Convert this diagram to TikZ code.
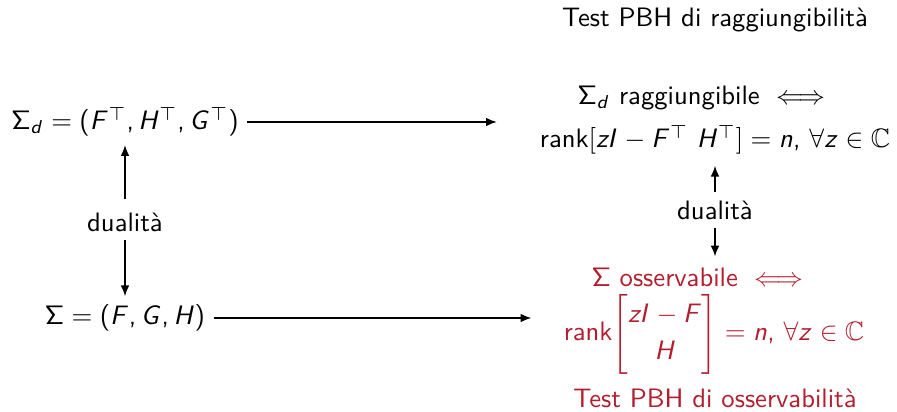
\documentclass[tikz,border=0pt]{standalone}
\usepackage{amsmath,amssymb}
\usetikzlibrary{arrows.meta}
\renewcommand\familydefault{\sfdefault}
\DeclareSymbolFont{sfup}{OT1}{cmss}{m}{n}
\DeclareSymbolFont{sfit}{OT1}{cmss}{m}{sl}
\def\do#1{\DeclareMathSymbol{#1}{\mathalpha}{sfit}{`#1}}
\do A\do B\do C\do D\do E\do F\do G\do H\do I\do J\do K\do L\do M
\do N\do O\do P\do Q\do R\do S\do T\do U\do V\do W\do X\do Y\do Z
\do a\do b\do c\do d\do e\do f\do g\do h\do i\do j\do k\do l\do m
\do n\do o\do p\do q\do r\do s\do t\do u\do v\do w\do x\do y\do z
\DeclareMathSymbol{\Sigma}{\mathalpha}{sfup}{"06}
\DeclareMathSymbol{(}{\mathopen}{sfup}{`(}
\DeclareMathSymbol{)}{\mathclose}{sfup}{`)}
\DeclareMathSymbol{,}{\mathpunct}{sfup}{`,}
\definecolor{bred}{RGB}{178,30,46}
\tikzset{
  lbl/.style={inner sep=3pt},
  arr/.style={-{Latex[length=4pt,width=3.2pt]}, line width=0.45pt},
}
\begin{document}
\begin{tikzpicture}[x=0.375pt,y=-0.375pt]
\useasboundingbox (0,0) rectangle (897,412);
\node[lbl] (t1) at (715,20) {Test PBH di raggiungibilità};
\node[lbl] (sd) at (125,122) {$\Sigma_d = (F^\top, H^\top, G^\top)$};
\node[lbl] (r1) at (705,98) {$\Sigma_d$ raggiungibile $\iff$};
\node[lbl] (r2) at (715,140) {rank$[zI - F^\top\ H^\top] = n,\,\forall z \in \mathbb{C}$};
\node[lbl] (dl) at (125,222) {dualità};
\node[lbl] (dr) at (715,210) {dualità};
\node[lbl] (sig) at (125,318) {$\Sigma = (F, G, H)$};
\node[lbl, text=bred] (o1) at (701,277) {$\Sigma$ osservabile $\iff$};
\node[lbl, inner ysep=0pt, text=bred] (o2) at (714,334) {rank$\renewcommand\arraystretch{1.15}\begin{bmatrix} zI - F\\ H\end{bmatrix} = n,\,\forall z \in \mathbb{C}$};
\node[lbl, text=bred] (t2) at (715,398) {Test PBH di osservabilità};
\draw[arr, shorten >=13pt] (sd.east) -- (sd.east -| r2.west);
\draw[arr, shorten >=9pt] (sig.east) -- (sig.east -| o2.west);
\draw[arr, shorten <=2pt] (dl) -- (sd);
\draw[arr] (dl) -- (sig);
\draw[arr, shorten >=1pt] (dr) -- (r2);
\draw[arr, shorten >=1pt] (dr.south) -- (dr.south |- o1.north);
\end{tikzpicture}
\end{document}
